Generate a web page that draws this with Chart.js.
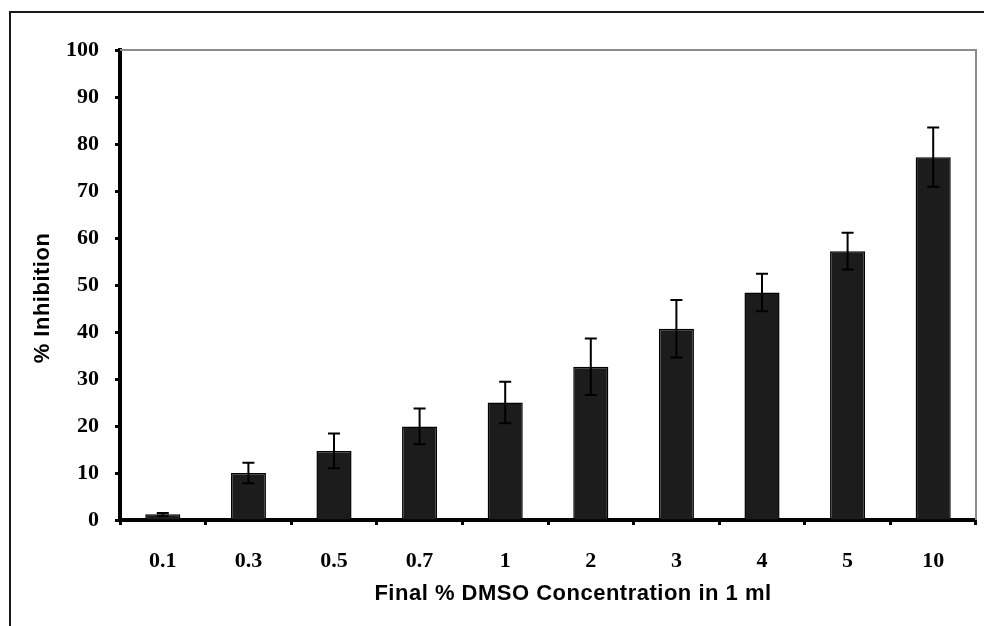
<!DOCTYPE html>
<html>
<head>
<meta charset="utf-8">
<title>DMSO inhibition</title>
<script src="https://cdn.jsdelivr.net/npm/chart.js@4/dist/chart.umd.min.js"></script>
<style>
  body { margin: 0; background: #fff; }
  #wrap { width: 984px; height: 626px; }
</style>
</head>
<body>
<div id="wrap"><canvas id="bar-chart" width="984" height="626"></canvas></div>
<script>
// final % DMSO (x) and mean % inhibition with error (+/-)
var concs = ["0.1", "0.3", "0.5", "0.7", "1", "2", "3", "4", "5", "10"];
var inhibition = [1.2, 10, 14.7, 19.9, 25, 32.6, 40.7, 48.4, 57.2, 77.2];
var errs = [0.3, 2.2, 3.7, 3.8, 4.4, 6, 6.1, 4, 3.9, 6.3];
var yTicks = [0, 10, 20, 30, 40, 50, 60, 70, 80, 90, 100];
var xTitle = 'Final % DMSO Concentration in 1 ml';
var yTitle = '% Inhibition';

var serifBold = { family: "'Liberation Serif', 'Times New Roman', serif", size: 22, weight: 'bold' };
var sansFont = "bold 22px 'Liberation Sans', Arial, sans-serif";

// box round the whole figure + grey frame on top/right of plot
var frame = {
  id: 'frame',
  beforeDraw: function (chart) {
    var c = chart.ctx;
    c.save();
    c.strokeStyle = '#1a1a1a';
    c.lineWidth = 2;
    c.beginPath();
    c.moveTo(10, 626);
    c.lineTo(10, 12);
    c.lineTo(984, 12);
    c.stroke();
    c.restore();
  },
  afterDatasetsDraw: function (chart) {
    var a = chart.chartArea, c = chart.ctx;
    c.save();
    c.strokeStyle = '#8c8c8c';
    c.lineWidth = 2;
    c.beginPath();
    c.moveTo(a.left, a.top);
    c.lineTo(a.right, a.top);
    c.lineTo(a.right, a.bottom);
    c.stroke();
    c.restore();
  }
};

// axis titles, placed a bit off centre like the old excel figure
var axisTitles = {
  id: 'axisTitles',
  afterDraw: function (chart) {
    var c = chart.ctx;
    c.save();
    c.fillStyle = '#000';
    c.font = sansFont;
    c.textAlign = 'center';
    c.textBaseline = 'middle';
    c.letterSpacing = '0.5px';
    c.fillText(xTitle, 573, 594);
    c.translate(43, 298);
    c.rotate(-Math.PI / 2);
    c.fillText(yTitle, 0, 0);
    c.restore();
  }
};

// +/- error bars on each bar
var errorBars = {
  id: 'errorBars',
  afterDatasetsDraw: function (chart) {
    var c = chart.ctx, y = chart.scales.y;
    var meta = chart.getDatasetMeta(0);
    c.save();
    c.strokeStyle = '#000';
    c.lineWidth = 2;
    meta.data.forEach(function (bar, i) {
      var hi = y.getPixelForValue(inhibition[i] + errs[i]);
      var lo = y.getPixelForValue(inhibition[i] - errs[i]);
      var x = bar.x;
      c.beginPath();
      c.moveTo(x, hi); c.lineTo(x, lo);
      c.moveTo(x - 6, hi); c.lineTo(x + 6, hi);
      c.moveTo(x - 6, lo); c.lineTo(x + 6, lo);
      c.stroke();
    });
    c.restore();
  }
};

new Chart(document.getElementById("bar-chart"), {
  type: 'bar',
  data: {
    labels: concs,
    datasets: [{
      data: inhibition,
      backgroundColor: '#1c1c1c',
      borderColor: '#000',
      borderWidth: 1.5,
      barPercentage: 0.41,
      categoryPercentage: 1
    }]
  },
  options: {
    responsive: false,
    animation: false,
    layout: { padding: { top: 50, right: 8, left: 0, bottom: 0 } },
    plugins: {
      legend: { display: false },
      tooltip: { enabled: false }
    },
    scales: {
      x: {
        offset: true,
        grid: { offset: true, drawOnChartArea: false, tickLength: 5, tickColor: '#000', tickWidth: 3 },
        border: { display: true, color: '#000', width: 4 },
        ticks: { color: '#000', font: serifBold, padding: 23, maxRotation: 0 },
        afterFit: function (s) { s.height = 106; }
      },
      y: {
        min: 0,
        max: 100,
        afterBuildTicks: function (s) { s.ticks = yTicks.map(function (v) { return { value: v }; }); },
        grid: {
          color: 'rgba(0,0,0,0)',
          tickLength: 5, tickColor: '#000', tickWidth: 3
        },
        border: { display: true, color: '#000', width: 4 },
        ticks: { color: '#000', font: serifBold, padding: 16 },
        afterFit: function (s) { s.width = 120; }
      }
    }
  },
  plugins: [frame, errorBars, axisTitles]
});
</script>
</body>
</html>
